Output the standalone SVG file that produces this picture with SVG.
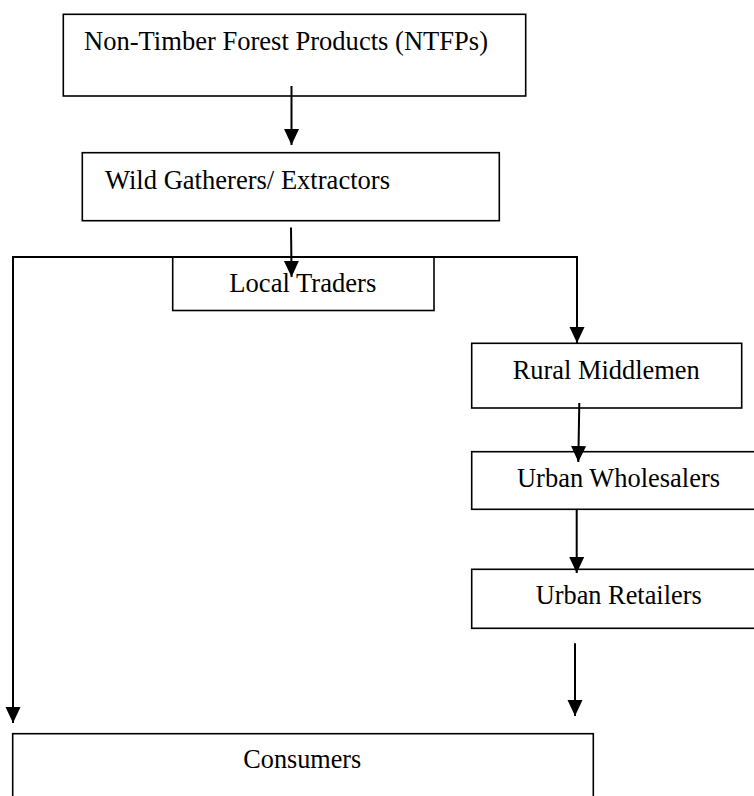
<svg xmlns="http://www.w3.org/2000/svg" width="754" height="796" viewBox="0 0 754 796">
<style>
.box{fill:#fff;stroke:#000;stroke-width:1.6}
.lbl{font-family:"Liberation Serif","Times New Roman",serif;font-size:28px;fill:#000}
.con{fill:none;stroke:#000;stroke-width:2}
</style>
<defs>
<marker id="ah" markerUnits="userSpaceOnUse" markerWidth="18" markerHeight="16" viewBox="0 0 18 16" refX="16" refY="8" orient="auto">
<path d="M0,0.5 L16,8 L0,15.5 Z" fill="#000"/>
</marker>
</defs>
<rect width="754" height="796" fill="#fff"/>
<g id="ntfp"><rect class="box" x="63.3" y="14.3" width="462.4" height="81.7"/><text class="lbl" x="84" y="50" textLength="404" lengthAdjust="spacingAndGlyphs">Non-Timber Forest Products (NTFPs)</text></g>
<g id="gatherers"><rect class="box" x="82.3" y="152.7" width="417" height="68"/><text class="lbl" x="105" y="189" textLength="285" lengthAdjust="spacingAndGlyphs">Wild Gatherers/ Extractors</text></g>
<g id="local"><rect class="box" x="172.7" y="257" width="261.3" height="53.5"/><text class="lbl" x="229.3" y="292" textLength="147" lengthAdjust="spacingAndGlyphs">Local Traders</text></g>
<g id="rural"><rect class="box" x="471.7" y="343.3" width="270" height="64.7"/><text class="lbl" x="512.7" y="379" textLength="187" lengthAdjust="spacingAndGlyphs">Rural Middlemen</text></g>
<g id="wholesalers"><rect class="box" x="471.7" y="451.7" width="290" height="57.6"/><text class="lbl" x="517" y="487" textLength="203" lengthAdjust="spacingAndGlyphs">Urban Wholesalers</text></g>
<g id="retailers"><rect class="box" x="471.7" y="569.3" width="290" height="59"/><text class="lbl" x="535.7" y="604" textLength="166" lengthAdjust="spacingAndGlyphs">Urban Retailers</text></g>
<g id="consumers"><rect class="box" x="12.7" y="733.7" width="580.6" height="70"/><text class="lbl" x="243.3" y="768" textLength="118" lengthAdjust="spacingAndGlyphs">Consumers</text></g>
<g id="connectors">
<path class="con" d="M291.5,86 V145" marker-end="url(#ah)"/>
<path class="con" d="M291,227.5 L291.6,277" marker-end="url(#ah)"/>
<path class="con" d="M577,257 H13 V723" marker-end="url(#ah)"/>
<path class="con" d="M13,257 H577 V343" marker-end="url(#ah)"/>
<path class="con" d="M579.3,403 L578.3,462" marker-end="url(#ah)"/>
<path class="con" d="M576.7,509.5 V573" marker-end="url(#ah)"/>
<path class="con" d="M575,643.3 V716" marker-end="url(#ah)"/>
</g>
</svg>
